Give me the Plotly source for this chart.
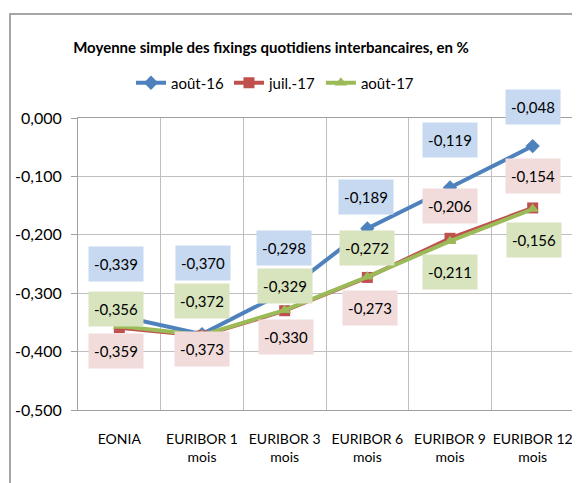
import plotly.graph_objects as go

categories = ["EONIA", "EURIBOR 1<br>mois", "EURIBOR 3<br>mois", "EURIBOR 6<br>mois",
              "EURIBOR 9<br>mois", "EURIBOR 12<br>mois"]
aout16 = [-0.339, -0.370, -0.298, -0.189, -0.119, -0.048]
juil17 = [-0.359, -0.373, -0.330, -0.273, -0.206, -0.154]
aout17 = [-0.356, -0.372, -0.329, -0.272, -0.211, -0.156]
series_names = ["août-16", "juil.-17", "août-17"]
y_ticks = [0.0, -0.1, -0.2, -0.3, -0.4, -0.5]

# label placement offsets (pixels)
yshift_blue = [52, 71, 44, 31, 48, 39]
yshift_red = [-23, -13, -26, -31, 32, 32]
yshift_green = [17, 34, 24, 29, -31, -31]
xshift_blue = [-3, 1, -1, -1, 0, 0]
xshift_red = [-3, 0, 1, 3, 0, 0]
xshift_green = [-3, 0, 0, 0, 0, 1]

FONT = "Lato, sans-serif"
colors = ["#4F81BD", "#C0504D", "#9BBB59"]
boxcolors = ["#C6D9F1", "#F2DCDB", "#D7E4BD"]
symbols = ["diamond", "square", "triangle-up"]
msize = [11, 11, 11]

# page body has an 8px margin: figure laid out to compensate
W, H = 572, 475

fig = go.Figure()
data = [aout16, juil17, aout17]
for name, vals, c, s, ms in zip(series_names, data, colors, symbols, msize):
    fig.add_trace(go.Scatter(
        x=categories, y=vals, name=name, mode="lines+markers",
        line=dict(color=c, width=4), marker=dict(symbol=s, size=ms, color=c),
    ))

def fmt(v):
    return f"{v:.3f}".replace(".", ",")

annotations = []
for vals, ys, xs, bc in zip(data, [yshift_blue, yshift_red, yshift_green],
                            [xshift_blue, xshift_red, xshift_green], boxcolors):
    for cat, v, dy, dx in zip(categories, vals, ys, xs):
        annotations.append(dict(
            x=cat, y=v, text=fmt(v), showarrow=False, xanchor="center", yanchor="middle",
            yshift=dy, xshift=dx, bgcolor=bc, width=52, height=32,
            font=dict(family=FONT, size=15, color="#000000"),
        ))

fig.update_layout(
    width=W, height=H,
    margin=dict(l=70, r=6, t=110, b=73, autoexpand=False),
    paper_bgcolor="white", plot_bgcolor="white",
    title=dict(text="<b>Moyenne simple des fixings quotidiens interbancaires, en %</b>",
               x=263 / W, xref="container", xanchor="center",
               y=1 - 40 / H, yref="container", yanchor="middle",
               font=dict(family=FONT, size=15, color="#000000")),
    legend=dict(orientation="h", x=267 / W, xref="container", xanchor="center",
                y=1 - 75 / H, yref="container", yanchor="middle",
                font=dict(family=FONT, size=15, color="#000000"),
                bgcolor="rgba(0,0,0,0)", itemwidth=30, tracegroupgap=0),
    showlegend=True,
    annotations=annotations,
    shapes=[dict(type="rect", xref="paper", yref="paper",
                 x0=-68 / 496, x1=1.2, y0=-0.5, y1=1 + 104 / 292,
                 line=dict(color="#A6A6A6", width=2), fillcolor="rgba(0,0,0,0)",
                 layer="below")],
)
fig.update_xaxes(
    type="category", tickson="boundaries", showgrid=True, gridcolor="#BFBFBF", gridwidth=1,
    showline=True, linecolor="#A0A0A0", linewidth=1, mirror=True, ticks="",
    tickangle=0, automargin=False, ticklabelstandoff=16,
    tickfont=dict(family=FONT, size=14, color="#000000"), range=[-0.5, 5.5],
)
fig.update_yaxes(
    range=[-0.5, 0], tickvals=y_ticks, ticktext=[fmt(v) for v in y_ticks],
    showgrid=True, gridcolor="#BFBFBF", gridwidth=1, zeroline=False, automargin=False,
    showline=True, linecolor="#A0A0A0", linewidth=1, mirror=True,
    ticks="outside", ticklen=6, tickcolor="#A0A0A0", ticklabelstandoff=6,
    tickfont=dict(family=FONT, size=16, color="#000000"),
)
fig.write_html("out.html")
